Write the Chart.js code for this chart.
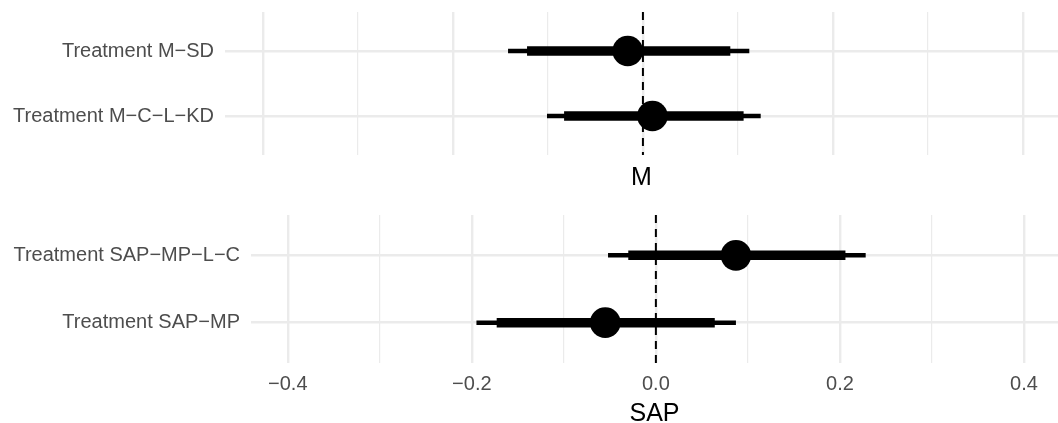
<!DOCTYPE html>
<html><head><meta charset="utf-8">
<script src="https://cdn.jsdelivr.net/npm/chart.js@4/dist/chart.umd.min.js"></script>
<style>
html,body{margin:0;padding:0;background:#fff;overflow:hidden;width:1058px;height:423px;}
canvas{position:absolute;left:0;}
#c1{top:0}
#c2{top:191px}
</style></head><body>
<canvas id="c1" width="1058" height="191"></canvas>
<canvas id="c2" width="1058" height="232"></canvas>
<script>
// ---- data ----
const xTicks = [-0.4, -0.3, -0.2, -0.1, 0, 0.1, 0.2, 0.3, 0.4];
const xTickLabels = ['\u22120.4', '', '\u22120.2', '', '0.0', '', '0.2', '', '0.4'];

const mCategories = ['Treatment M\u2212SD', 'Treatment M\u2212C\u2212L\u2212KD'];
const mEstimate  = [-0.016, 0.010];
const mOuterLow  = [-0.142, -0.101];
const mOuterHigh = [0.112, 0.124];
const mInnerLow  = [-0.122, -0.083];
const mInnerHigh = [0.092, 0.106];

const sapCategories = ['Treatment SAP\u2212MP\u2212L\u2212C', 'Treatment SAP\u2212MP'];
const sapEstimate  = [0.087, -0.055];
const sapOuterLow  = [-0.052, -0.195];
const sapOuterHigh = [0.228, 0.087];
const sapInnerLow  = [-0.030, -0.173];
const sapInnerHigh = [0.206, 0.064];

const refLine = 0;

// ---- drawing ----
Chart.defaults.font.family = "'Liberation Sans', Arial, sans-serif";
Chart.defaults.animation = false;

const GRID = '#EBEBEB';
const TXT = '#4D4D4D';

function panel(canvasId, cats, est, oLo, oHi, iLo, iHi, title, opts) {
  const n = cats.length;
  const rowY = i => n - i;
  const datasets = [];
  datasets.push({
    label: 'est', order: 0,
    data: est.map((v, i) => ({x: v, y: rowY(i)})),
    pointRadius: 15.3, pointHoverRadius: 15.3,
    backgroundColor: '#000', borderWidth: 0, showLine: false
  });
  cats.forEach((c, i) => {
    datasets.push({
      label: 'inner' + i, order: 1, showLine: true,
      data: [{x: iLo[i], y: rowY(i)}, {x: iHi[i], y: rowY(i)}],
      borderColor: '#000', borderWidth: 9.5, pointRadius: 0, borderCapStyle: 'butt'
    });
    datasets.push({
      label: 'outer' + i, order: 2, showLine: true,
      data: [{x: oLo[i], y: rowY(i)}, {x: oHi[i], y: rowY(i)}],
      borderColor: '#000', borderWidth: 4.5, pointRadius: 0, borderCapStyle: 'butt'
    });
  });
  datasets.push({
    label: 'ref', order: 3, showLine: true,
    data: [{x: refLine, y: n + 0.6}, {x: refLine, y: 0.4}],
    borderColor: '#000', borderWidth: 2, borderDash: [8, 6], pointRadius: 0
  });

  return new Chart(document.getElementById(canvasId), {
    type: 'scatter',
    data: {datasets},
    options: {
      responsive: false,
      animation: false,
      layout: {autoPadding: false, padding: {top: opts.padTop, left: 0, right: 0, bottom: 0}},
      plugins: {legend: {display: false}, tooltip: {enabled: false}},
      scales: {
        x: {
          type: 'linear', min: -0.44, max: 0.437,
          afterBuildTicks: s => { s.ticks = xTicks.map(v => ({value: v})); },
          afterFit: s => { s.height = opts.axisH; s.paddingLeft = 0; s.paddingRight = 0; },
          ticks: {
            display: opts.showTicks, autoSkip: false, maxRotation: 0,
            color: TXT, font: {size: 20}, padding: 9,
            callback: (v, idx) => xTickLabels[idx]
          },
          grid: {
            color: GRID, drawTicks: false,
            lineWidth: ctx => (ctx.tick && Math.abs(Math.round(ctx.tick.value * 10)) % 2 === 0) ? 2.4 : 1.2
          },
          border: {display: false},
          title: {display: true, text: title, color: '#000',
                  font: {size: 25, lineHeight: opts.titleLH}, padding: {top: 0, bottom: 0}}
        },
        y: {
          type: 'linear', min: 0.4, max: n + 0.6,
          afterBuildTicks: s => { s.ticks = cats.map((c, i) => ({value: rowY(i)})); },
          afterFit: s => { s.width = opts.left; s.paddingTop = 0; s.paddingBottom = 0; },
          ticks: {
            color: TXT, font: {size: 20}, padding: 11, autoSkip: false,
            callback: v => cats[n - v]
          },
          grid: {color: GRID, lineWidth: 2.4, drawTicks: false},
          border: {display: false}
        }
      }
    }
  });
}

panel('c1', mCategories, mEstimate, mOuterLow, mOuterHigh, mInnerLow, mInnerHigh, 'M',
      {padTop: 12, showTicks: false, left: 225, axisH: 36, titleLH: 1.04});
panel('c2', sapCategories, sapEstimate, sapOuterLow, sapOuterHigh, sapInnerLow, sapInnerHigh, 'SAP',
      {padTop: 24, showTicks: true, left: 251, axisH: 60, titleLH: 0.72});
</script>
</body></html>
